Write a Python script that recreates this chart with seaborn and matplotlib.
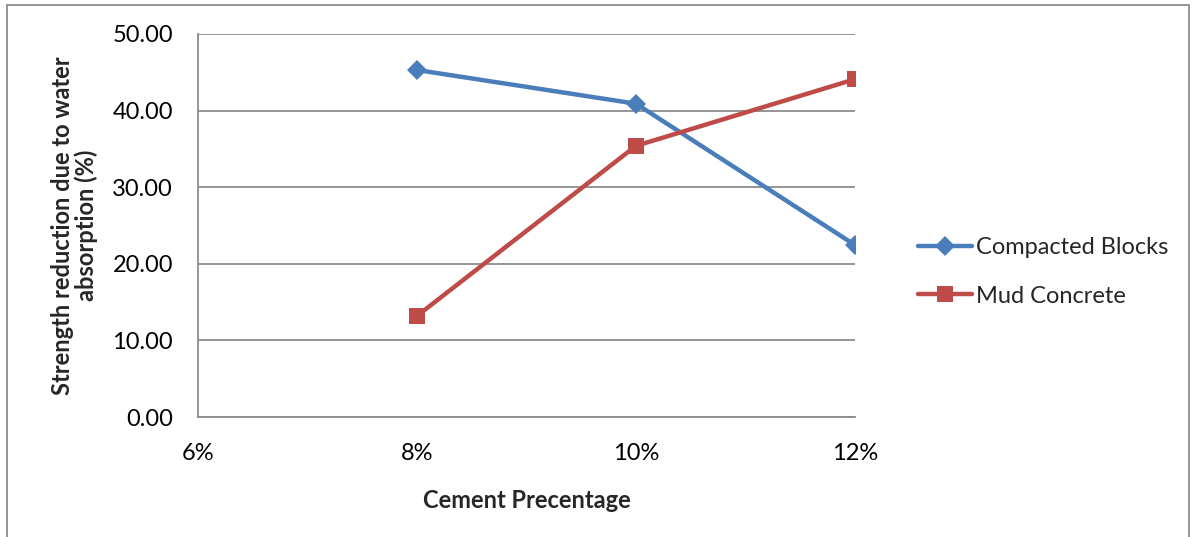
import matplotlib
matplotlib.use("Agg")
import matplotlib.pyplot as plt
from matplotlib.patches import Rectangle
from matplotlib.lines import Line2D
import pandas as pd
import seaborn as sns

# Cement content (%) and strength reduction (%) for each block type
cement_pct = [8, 10, 12]
compacted_blocks = [45.3, 40.9, 22.45]
mud_concrete = [13.2, 35.4, 44.1]
series_names = ["Compacted Blocks", "Mud Concrete"]
x_ticks = [6, 8, 10, 12]
y_ticks = [0, 10, 20, 30, 40, 50]

df = pd.DataFrame({
    "cement": cement_pct * 2,
    "reduction": compacted_blocks + mud_concrete,
    "series": [series_names[0]] * 3 + [series_names[1]] * 3,
})

sns.set_theme(style="white")
plt.rcParams["font.family"] = ["Lato", "DejaVu Sans"]

colors = {"Compacted Blocks": "#4A7EBB", "Mud Concrete": "#BE4B48"}
markers = {"Compacted Blocks": "D", "Mud Concrete": "s"}
msizes = {"Compacted Blocks": 10, "Mud Concrete": 12}
FS = 17

fig = plt.figure(figsize=(11.94, 5.37), dpi=100)
ax = fig.add_axes([198 / 1194, 1 - 417 / 537, (855 - 198) / 1194, (417 - 34) / 537])

sns.lineplot(data=df, x="cement", y="reduction", hue="series", style="series",
             palette=colors, markers=markers, dashes=False, linewidth=3.2,
             markersize=12, markeredgewidth=0, ax=ax, legend=False)
for line in ax.lines:
    if line.get_marker() == "D":
        line.set_markersize(msizes["Compacted Blocks"])
    line.set_solid_capstyle("round")

ax.set_xlim(6, 12)
ax.set_ylim(0, 50)
ax.set_xticks(x_ticks)
ax.set_xticklabels([f"{t}%" for t in x_ticks])
ax.set_yticks(y_ticks)
ax.set_yticklabels([f"{t:.2f}" for t in y_ticks])
ax.yaxis.grid(True, color="#8C8C8C", linewidth=1.3)
ax.set_axisbelow(True)

for side in ["top", "right"]:
    ax.spines[side].set_visible(False)
for side in ["left", "bottom"]:
    ax.spines[side].set_color("#8C8C8C")
    ax.spines[side].set_linewidth(1.3)

ax.tick_params(axis="both", which="both", length=6, width=1.3, color="#8C8C8C",
               labelsize=FS, labelcolor="black", direction="out")
ax.tick_params(axis="x", pad=13)
ax.tick_params(axis="y", pad=12)

ax.set_xlabel("Cement Precentage", fontsize=FS, fontweight="bold", labelpad=18)
ax.set_ylabel("Strength reduction due to water\nabsorption (%)", fontsize=FS,
              fontweight="bold", labelpad=10, linespacing=1.05,
              multialignment="center")

handles = [Line2D([], [], color=colors[n], marker=markers[n], linewidth=3.2,
                  markersize=msizes[n], markeredgewidth=0)
           for n in series_names]
fig.legend(handles, series_names, loc="center left",
           bbox_to_anchor=(918 / 1194, 1 - 272 / 537), frameon=False,
           fontsize=FS, handlelength=2.3, handletextpad=0.15, labelspacing=1.15,
           borderpad=0, borderaxespad=0)

# chart area border
fig.patches.append(Rectangle((7 / 1194, -0.02), (1189 - 7) / 1194, 1 - 5 / 537 + 0.02,
                             transform=fig.transFigure, fill=False,
                             edgecolor="#8C8C8C", linewidth=1.3))

fig.savefig("out.png", dpi=100)
